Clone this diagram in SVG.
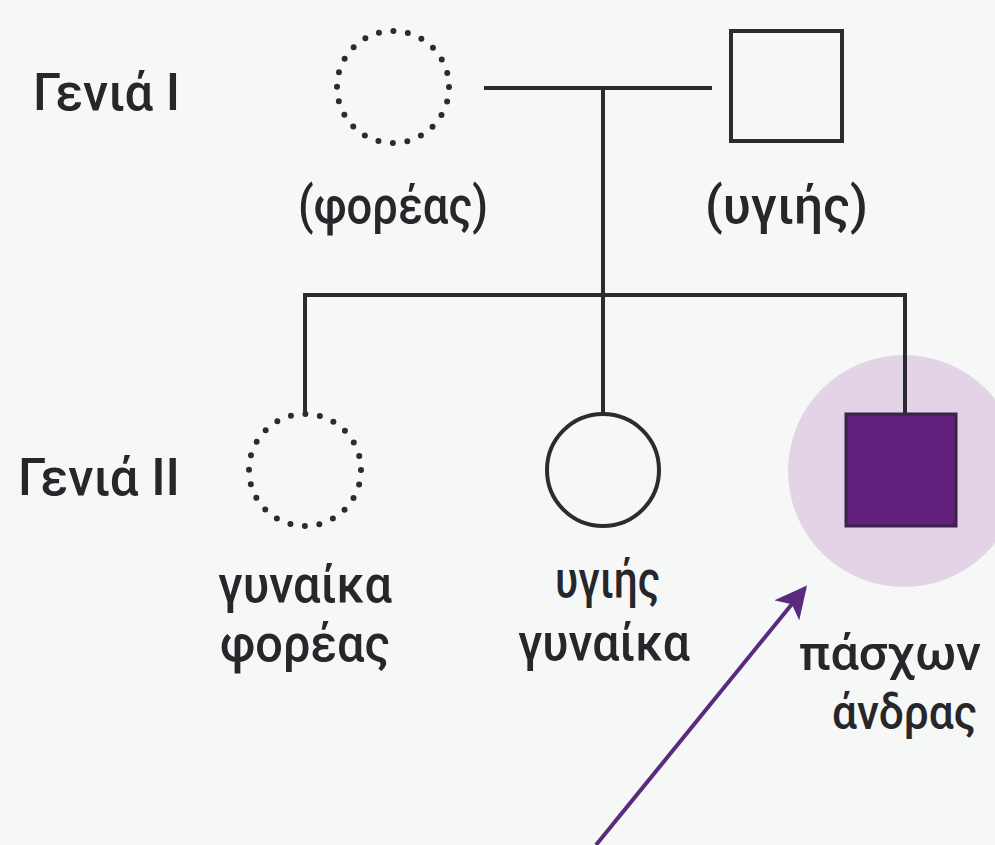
<svg xmlns="http://www.w3.org/2000/svg" width="995" height="845" viewBox="0 0 995 845">
<defs>
<style>
.t{font-family:Roboto,"Noto Sans","DejaVu Sans",sans-serif;font-size:52px;font-weight:500;fill:#26262b}
.s{font-size:49px}
.ln{stroke:#2b2c30;stroke-width:4;fill:none}
.dot{stroke:#2b2c30;stroke-width:6;fill:none;stroke-dasharray:0 14.66;stroke-linecap:round}
</style>
<marker id="ah" viewBox="0 0 10 10" refX="9" refY="5" markerWidth="8" markerHeight="8" markerUnits="strokeWidth" orient="auto">
<path d="M0,0 L10,5 L0,10 L2.5,5 Z" fill="#5b2a7f"/>
</marker>
</defs>
<rect width="995" height="845" fill="#f6f8f7"/>
<g id="labels">
<text class="t" x="33" y="110" textLength="147" lengthAdjust="spacingAndGlyphs">Γενιά I</text>
<text class="t" x="18" y="495" textLength="162" lengthAdjust="spacingAndGlyphs">Γενιά II</text>
</g>
<g id="highlight"><circle cx="904" cy="471" r="116" fill="#e2d4e6"/></g>
<g id="connectors">
<line class="ln" x1="484" y1="88" x2="712" y2="88"/>
<line class="ln" x1="603" y1="88" x2="603" y2="413"/>
<polyline class="ln" points="305,415 305,295 905,295 905,415"/>
<line x1="596" y1="845" x2="805" y2="588" stroke="#5b2a7f" stroke-width="4" marker-end="url(#ah)"/>
</g>
<g id="mother">
<circle class="dot" cx="393" cy="87" r="56"/>
<text class="t" x="298" y="223" textLength="190" lengthAdjust="spacingAndGlyphs">(φορέας)</text>
</g>
<g id="father">
<rect class="ln" x="731" y="31" width="111" height="110"/>
<text class="t" x="705" y="223" textLength="163" lengthAdjust="spacingAndGlyphs">(υγιής)</text>
</g>
<g id="daughter1">
<circle class="dot" cx="305" cy="470" r="56"/>
<text class="t" x="218" y="602" textLength="174" lengthAdjust="spacingAndGlyphs">γυναίκα</text>
<text class="t" x="220" y="661" textLength="170" lengthAdjust="spacingAndGlyphs">φορέας</text>
</g>
<g id="daughter2">
<circle class="ln" cx="603" cy="470" r="56"/>
<text class="t" x="555" y="597" textLength="105" lengthAdjust="spacingAndGlyphs">υγιής</text>
<text class="t" x="518" y="660" textLength="172" lengthAdjust="spacingAndGlyphs">γυναίκα</text>
</g>
<g id="son">
<rect x="846" y="414" width="110" height="112" fill="#60207c" stroke="#3a2346" stroke-width="3"/>
<text class="t s" x="799" y="670" textLength="182" lengthAdjust="spacingAndGlyphs">πάσχων</text>
<text class="t s" x="832" y="729" textLength="145" lengthAdjust="spacingAndGlyphs">άνδρας</text>
</g>
</svg>
